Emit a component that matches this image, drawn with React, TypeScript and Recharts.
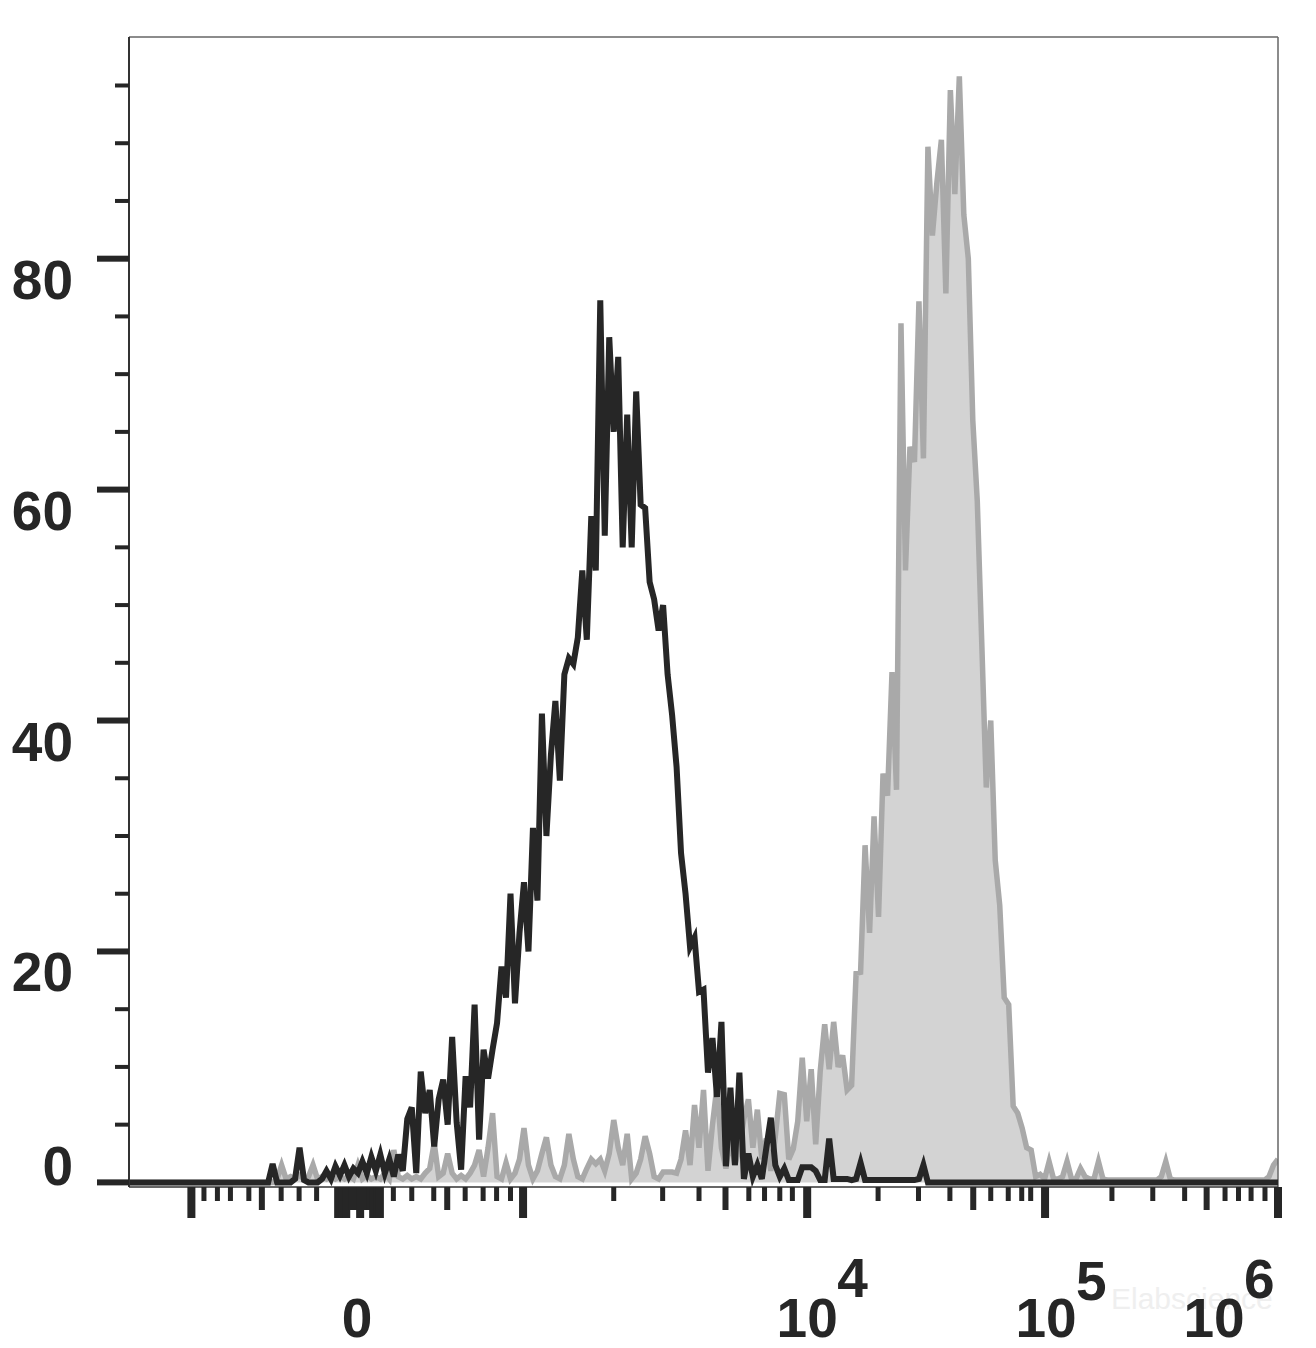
import { ComposedChart, Area, Line, XAxis, YAxis, ReferenceLine } from "recharts"

// histogram bins on the display (logicle) channel scale, 0..256
const binCount = 256

const blackCounts = [
    0, 0, 0, 0, 0, 0, 0, 0, 0, 0,
    0, 0, 0, 0, 0, 0, 0, 0, 0, 0,
    0, 0, 0, 0, 0, 0, 0, 0, 0, 0,
    0, 0, 1.6, 0, 0, 0, 0, 0.3, 3.0, 0.2,
    0, 0, 0, 0.3, 1.0, 0.3, 1.4, 0.6, 1.5, 0.5,
    1.2, 0.8, 1.8, 0.8, 2.2, 1.0, 2.4, 0.8, 2.0, 0.5,
    2.4, 1.0, 5.5, 6.5, 0.8, 9.6, 6.0, 8.0, 3.1, 7.2,
    8.9, 5.0, 12.6, 5.2, 1.1, 9.2, 6.5, 15.4, 3.7, 11.5,
    9.0, 11.5, 13.8, 18.7, 16.0, 25.0, 15.5, 21.6, 26.0, 20.0,
    30.7, 24.4, 40.6, 30.0, 37.0, 41.7, 34.8, 44.0, 45.4, 44.9,
    47.2, 53.0, 47.0, 57.7, 53.0, 76.4, 56.0, 73.2, 65.0, 71.5,
    55.0, 66.5, 55.0, 68.5, 58.7, 58.4, 52.0, 50.5, 47.8, 50.0,
    44.0, 40.5, 36.0, 28.5, 25.0, 20.4, 21.2, 16.5, 16.7, 9.5,
    12.5, 7.4, 13.9, 1.4, 8.2, 1.5, 9.5, 0.3, 2.5, 0.5,
    1.5, 0.3, 3.0, 5.6, 1.5, 0.5, 1.2, 0.2, 0.2, 0.2,
    1.3, 1.3, 1.3, 1.0, 0.2, 0.2, 3.8, 0.3, 0.3, 0.3,
    0.3, 0.2, 0.3, 1.7, 0.2, 0.2, 0.2, 0.2, 0.2, 0.2,
    0.2, 0.2, 0.2, 0.2, 0.2, 0.2, 0.3, 1.5, 0, 0,
    0, 0, 0, 0, 0, 0, 0, 0, 0, 0,
    0, 0, 0, 0, 0, 0, 0, 0, 0, 0,
    0, 0, 0, 0, 0, 0, 0, 0, 0, 0,
    0, 0, 0, 0, 0, 0, 0, 0, 0, 0,
    0, 0, 0, 0, 0, 0, 0, 0, 0, 0,
    0, 0, 0, 0, 0, 0, 0, 0, 0, 0,
    0, 0, 0, 0, 0, 0, 0, 0, 0, 0,
    0, 0, 0, 0, 0, 0, 0,
]

const grayCounts = [
    0, 0, 0, 0, 0, 0, 0, 0, 0, 0,
    0, 0, 0, 0, 0, 0, 0, 0, 0, 0,
    0, 0, 0, 0, 0, 0, 0, 0, 0, 0,
    0, 0, 0, 0.3, 1.5, 0.3, 0.5, 0.3, 0.6, 0.3,
    0.5, 1.5, 0.3, 0.5, 0.3, 0.6, 0.3, 0.5, 0.3, 0.6,
    0.3, 1.5, 0.3, 0.6, 0.3, 0.5, 0.3, 0.8, 0.3, 2.8,
    0.5, 0.3, 0.6, 0.3, 0.5, 0.3, 0.8, 1.2, 3.4, 0.5,
    0.8, 2.5, 0.8, 0.3, 0.6, 0.3, 0.8, 1.5, 2.8, 0.5,
    3.0, 6.0, 0.5, 0.3, 1.7, 0.3, 0.8, 2.0, 4.7, 1.5,
    0.3, 1.0, 2.5, 3.9, 1.5, 0.5, 0.3, 1.5, 4.2, 2.0,
    0.5, 0.3, 1.2, 2.0, 1.6, 2.0, 1.0, 2.5, 5.4, 3.0,
    1.5, 4.2, 0.3, 0.8, 2.0, 4.0, 2.5, 0.5, 0.3, 0.9,
    0.9, 0.9, 0.8, 2.0, 4.5, 1.5, 6.7, 3.0, 8.0, 1.0,
    5.0, 8.3, 3.0, 1.2, 4.0, 1.5, 3.0, 5.5, 7.2, 3.0,
    6.3, 2.0, 3.8, 1.0, 4.0, 7.7, 7.6, 2.0, 2.9, 5.3,
    10.8, 5.3, 9.8, 3.3, 9.6, 13.7, 9.8, 13.9, 10.0, 11.0,
    8.0, 8.4, 18.1, 18.2, 29.2, 21.6, 31.7, 23.0, 35.4, 33.5,
    44.2, 34.0, 74.4, 53.0, 63.7, 62.4, 76.3, 62.7, 89.7, 82.0,
    86.6, 90.3, 77.0, 94.6, 85.6, 95.8, 83.8, 80.0, 66.0, 59.0,
    46.7, 34.2, 40.0, 27.9, 24.0, 16.0, 15.4, 6.6, 6.0, 4.7,
    3.0, 2.8, 0.5, 0.7, 0.3, 1.8, 0.3, 0.3, 0.5, 1.8,
    0.3, 0.3, 1.2, 0.5, 0.3, 0.3, 1.8, 0.3, 0.2, 0.2,
    0.2, 0.2, 0.2, 0.2, 0.2, 0.2, 0.2, 0.2, 0.2, 0.2,
    0.5, 1.8, 0.3, 0.2, 0.2, 0.2, 0.2, 0.2, 0.2, 0.2,
    0.2, 0.2, 0.2, 0.2, 0.2, 0.2, 0.2, 0.2, 0.2, 0.2,
    0.2, 0.2, 0.2, 0.2, 0.5, 1.5, 2.0,
]

const yTicks = [0, 5, 10, 15, 20, 25, 30, 35, 40, 45, 50, 55, 60, 65, 70, 75, 80, 85, 90, 95]
const yLabelValues = [0, 20, 40, 60, 80]

// x tick positions in channel units
const xLongTicks = [13.9, 46.6, 47.5, 48.4, 51.5, 54.4, 55.3, 55.9, 87.8, 151.1, 204.1, 256]
const xMediumTicks = [29.6, 49.5, 50.4, 52.6, 53.5, 70.9, 132.9, 188.1, 240.1]
const xMinorTicks = [
    16.7, 19.7, 22.6, 26.7, 33.9, 37.9, 41.8,
    58.9, 63.0, 67.9, 74.9, 78.9, 81.9, 85.0,
    108.0, 118.9, 127.0, 138.1, 141.6, 145.0, 147.8,
    166.9, 175.9, 182.9, 192.0, 195.9, 198.9, 200.9,
    219.0, 228.1, 235.2, 244.2, 247.2, 250.0, 253.1,
]

const xLabels = [
    { at: 51.5, text: "0", sup: "" },
    { at: 151.1, text: "10", sup: "4" },
    { at: 204.1, text: "10", sup: "5" },
    { at: 256, text: "10", sup: "6" },
]

const rows = blackCounts.map((b, i) => ({ bin: i, black: b, gray: grayCounts[i] }))
const allXTicks = [...xLongTicks, ...xMediumTicks, ...xMinorTicks].sort((a, b) => a - b)

const FONT = "'Liberation Sans', Arial, sans-serif"
const INK = "#262626"

// label nudges, same order as xLabels
const labelShift = [-3, 0, 1, -64]
const supShift = [0, -40, -37, -39]

function XTick(props: any) {
    const { x, y, payload } = props
    const v = payload.value
    let len = 14
    let w = 5
    if (xLongTicks.includes(v)) {
        len = 31
        w = 8
    } else if (xMediumTicks.includes(v)) {
        len = 23
        w = 6
    }
    const li = xLabels.findIndex((l) => l.at === v)
    const label = li >= 0 ? xLabels[li] : null
    const cx = x + (li >= 0 ? labelShift[li] : 0)
    return (
        <g>
            <rect x={x - w / 2} y={y} width={w} height={len} fill={INK} />
            {label && (
                <text
                    x={cx}
                    y={y + 150}
                    textAnchor="middle"
                    fontFamily={FONT}
                    fontWeight="bold"
                    fontSize={55}
                    fill={INK}
                >
                    {label.text}
                </text>
            )}
            {label && label.sup && (
                <text
                    x={cx + 30}
                    y={y + 150 + supShift[li]}
                    fontFamily={FONT}
                    fontWeight="bold"
                    fontSize={55}
                    fill={INK}
                >
                    {label.sup}
                </text>
            )}
        </g>
    )
}

function YTick(props: any) {
    const { x, y, payload } = props
    const v = payload.value
    const major = yLabelValues.includes(v)
    const len = major ? 32 : 14
    const h = major ? 6 : 4
    return (
        <g>
            <rect x={x - len} y={y - h / 2} width={len} height={h} fill={INK} />
            {major && (
                <text
                    x={x - 56}
                    y={v === 0 ? y + 3 : y + 40}
                    textAnchor="end"
                    fontFamily={FONT}
                    fontWeight="bold"
                    fontSize={55}
                    fill={INK}
                >
                    {v}
                </text>
            )}
        </g>
    )
}

export default function App() {
    return (
        <div style={{ position: "absolute", left: 0, top: 0, width: 1316, height: 1348, background: "#fff" }}>
            <div
                style={{
                    position: "absolute",
                    left: 1111,
                    top: 1284,
                    fontFamily: FONT,
                    fontSize: 30,
                    lineHeight: "30px",
                    color: "#efefef",
                }}
            >
                Elabscience
            </div>
            <div style={{ position: "absolute", left: 0, top: 0 }}>
                <ComposedChart
                    width={1316}
                    height={1348}
                    data={rows}
                    margin={{ top: 37, right: 38, bottom: 0, left: 0 }}
                >
                    <XAxis
                        dataKey="bin"
                        type="number"
                        domain={[0, binCount]}
                        ticks={allXTicks}
                        interval={0}
                        tickSize={0}
                        tickMargin={0}
                        tickLine={false}
                        axisLine={{ stroke: "#333", strokeWidth: 1.5 }}
                        tick={<XTick />}
                        height={161}
                        allowDataOverflow
                    />
                    <YAxis
                        type="number"
                        domain={[-0.4, 99.2]}
                        ticks={yTicks}
                        interval={0}
                        tickSize={0}
                        tickMargin={0}
                        tickLine={false}
                        axisLine={{ stroke: "#333", strokeWidth: 2 }}
                        tick={<YTick />}
                        width={129}
                        allowDataOverflow
                    />
                    <ReferenceLine y={99.2} stroke="#666" strokeWidth={1.5} />
                    <ReferenceLine x={binCount} stroke="#666" strokeWidth={1.5} />
                    <Area
                        dataKey="gray"
                        type="linear"
                        stroke="#a9a9a9"
                        strokeWidth={5.5}
                        fill="#d3d3d3"
                        fillOpacity={1}
                        dot={false}
                        activeDot={false}
                        isAnimationActive={false}
                    />
                    <Line
                        dataKey="black"
                        type="linear"
                        stroke={INK}
                        strokeWidth={6}
                        dot={false}
                        activeDot={false}
                        isAnimationActive={false}
                    />
                </ComposedChart>
            </div>
        </div>
    )
}
